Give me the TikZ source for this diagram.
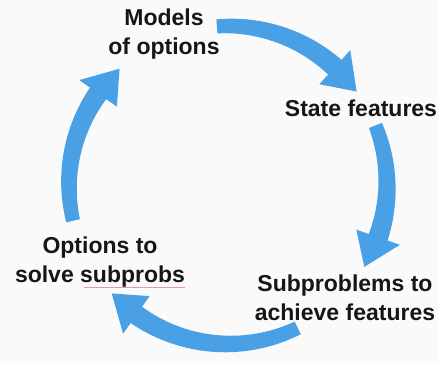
\documentclass[tikz,border=0pt]{standalone}
\usepackage{fontspec}
\setmainfont{Liberation Sans}
\definecolor{cycleblue}{RGB}{74,160,229}
\definecolor{ink}{RGB}{22,22,22}
\definecolor{paper}{RGB}{250,250,250}
\definecolor{squiggle}{RGB}{235,150,160}

% Curved, slightly tapered arrow running clockwise round the hub.
% #1 = tail angle, #2 = tip angle (degrees, #1 > #2)
\newcommand\cyclearrow[2]{%
  \pgfmathsetmacro\headbase{#2+11}%
  \fill[band, shift={(hub)}]
    plot[domain=#1:\headbase, samples=40]
      ({\x}:{\ringr+7+3*(#1-\x)/(#1-\headbase)})
    -- plot[domain=\headbase:#1, samples=40]
      ({\x}:{\ringr-7-3*(#1-\x)/(#1-\headbase)})
    -- cycle;
  \fill[band, shift={(hub)}]
    ({\headbase+0.8}:{\ringr+23}) -- ({#2}:{\ringr}) -- ({\headbase+0.8}:{\ringr-23}) -- cycle;
}

\begin{document}
\begin{tikzpicture}[x=1pt, y=1pt,
  label/.style={align=center, inner sep=0pt, text=ink,
    font=\fontsize{23}{29}\selectfont\bfseries},
  band/.style={fill=cycleblue}]
  \def\ringr{159}
  \fill[paper] (0,0) rectangle (438,364);
  \useasboundingbox (0,0) rectangle (438,364);
  \coordinate (hub) at (228,179);

  % the four stages
  \node[label] (models) at (164,330) {Models\\of options};
  \node[label] (state)  at (361,256) {State features};
  \node[label] (subp)   at (345,66)  {Subproblems to\\achieve features};
  \node[label] (opts)   at (100,102) {Options to\\solve subprobs};

  % spell-check underline beneath "subprobs"
  \draw[squiggle, line width=0.8pt] (84,77) -- (185,77);

  % the cycle arrows
  \cyclearrow{94}{36}
  \cyclearrow{22}{-31}
  \cyclearrow{-64}{-137}
  \cyclearrow{193}{133}
\end{tikzpicture}
\end{document}
